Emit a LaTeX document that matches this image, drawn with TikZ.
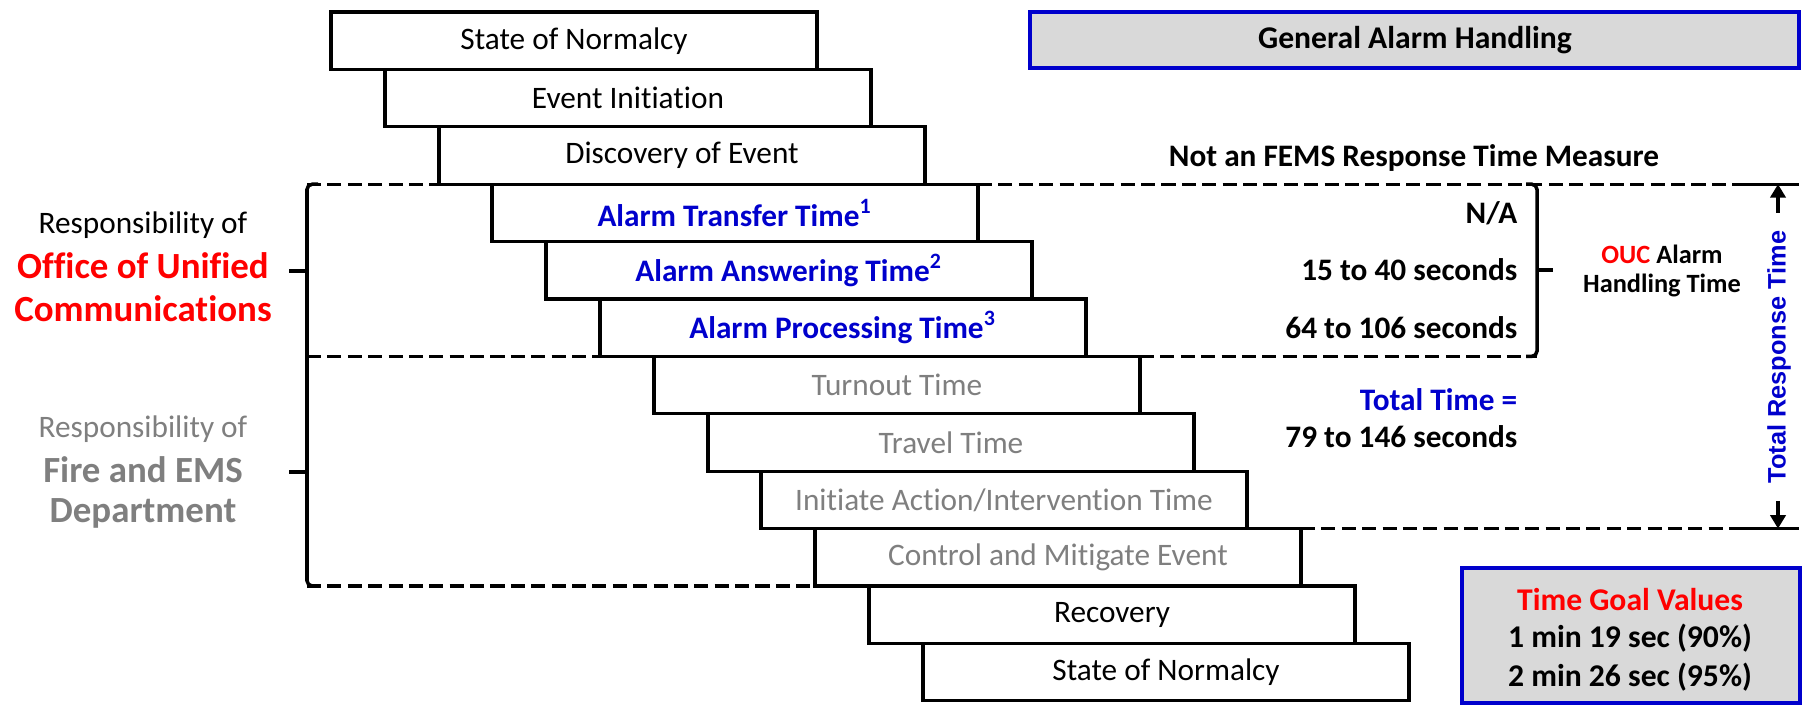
\documentclass[tikz,border=0pt]{standalone}
\usepackage{fontspec}
\setmainfont{Carlito}[Ligatures=NoCommon]
\newfontfamily\arialfont{Liberation Sans}
\usetikzlibrary{arrows.meta}
\definecolor{ablue}{RGB}{0,0,204}
\definecolor{agray}{RGB}{127,127,127}
\definecolor{ared}{RGB}{255,0,0}
\definecolor{boxgray}{RGB}{217,217,217}
\begin{document}
\begin{tikzpicture}[x=0.1mm,y=-0.1mm,
  stage/.style={draw, line width=0.9pt, minimum width=48.6mm, minimum height=5.74mm,
    inner sep=0pt, outer sep=0pt, anchor=north west, font=\fontsize{8.9}{10.7}\selectfont},
  alarm/.style={stage, text=ablue, font=\fontsize{8.9}{10.7}\selectfont\bfseries},
  fems/.style={stage, text=agray},
  dashline/.style={line width=0.9pt, dash pattern=on 4pt off 1.8pt},
  solidline/.style={line width=0.9pt},
  brk/.style={line width=1pt},
  lbl/.style={inner sep=0pt, font=\fontsize{8.9}{10.7}\selectfont},
  biglbl/.style={inner sep=0pt, font=\fontsize{10.5}{12}\selectfont\bfseries},
  vals/.style={inner sep=0pt, anchor=east, font=\fontsize{8.9}{10.7}\selectfont\bfseries},
  framebox/.style={draw=ablue, fill=boxgray, line width=1.3pt},
  arr/.style={line width=0.9pt, -{Triangle[length=3.8pt,width=4.3pt]}}
]
\useasboundingbox (0,0) rectangle (1808,705);

% stages
\node[stage] (b1) at (331,12) {State of Normalcy};
\node[stage] (b2) at (385,69.4) {Event Initiation};
\node[stage] (b3) at (439,126.8) {Discovery of Event};
\node[alarm] (b4) at (492,184.2) {Alarm Transfer Time\textsuperscript{1}};
\node[alarm] (b5) at (546,241.6) {Alarm Answering Time\textsuperscript{2}};
\node[alarm] (b6) at (600,299) {Alarm Processing Time\textsuperscript{3}};
\node[fems] (b7) at (654,356.4) {Turnout Time};
\node[fems] (b8) at (708,413.8) {Travel Time};
\node[fems] (b9) at (761,471.2) {Initiate Action/Intervention Time};
\node[fems] (b10) at (815,528.6) {Control and Mitigate Event};
\node[stage] (b11) at (869,586) {Recovery};
\node[stage] (b12) at (923,643.4) {State of Normalcy};

% bracket coordinates
\coordinate (lt) at (307,184.2);
\coordinate (lm) at (307,356.4);
\coordinate (lb) at (307,586);
\coordinate (lt1) at (289,271);
\coordinate (lt1b) at (307,271);
\coordinate (lt2) at (289,472);
\coordinate (lt2b) at (307,472);
\coordinate (ot) at (1537,184.2);
\coordinate (ob) at (1537,356.4);
\coordinate (otk) at (1537,270);
\coordinate (otke) at (1553,270);
\coordinate (trA) at (1735,184.2);
\coordinate (trB) at (1799,184.2);
\coordinate (brA) at (1735,528.6);
\coordinate (brB) at (1799,528.6);

% dashed boundaries
\draw[dashline] (lt) -- (lt -| b3.west);
\draw[dashline] (b4.north east) -- (trA);
\draw[solidline] (trA) -- (trB);
\draw[dashline] (lm) -- (lm -| b6.west);
\draw[dashline] (b7.north east) -- (ob);
\draw[dashline] (b10.north east) -- (brA);
\draw[solidline] (brA) -- (brB);
\draw[dashline] (lb) -- (lb -| b10.west);

% left bracket
\draw[brk, rounded corners=1.5pt] (318,184.2) -- (lt) -- (lb) -- (318,586);
\draw[brk] (lm) -- (316,356.4);
\draw[line width=1.3pt] (lt1) -- (lt1b);
\draw[line width=1.3pt] (lt2) -- (lt2b);
% OUC bracket
\draw[brk, rounded corners=1.5pt] (1526,184.2) -- (ot) -- (ob) -- (1526,356.4);
\draw[line width=1.3pt] (otk) -- (otke);

% left labels
\node[lbl] (r1) at (143,225) {Responsibility of};
\node[biglbl, text=ared] (r2) at (143,266) {Office of Unified};
\node[biglbl, text=ared] (r3) at (143,309) {Communications};
\node[lbl, text=agray] (f1) at (143,429) {Responsibility of};
\node[biglbl, text=agray] (f2) at (143,470) {Fire and EMS};
\node[biglbl, text=agray] (f3) at (143,513) {Department};

% right column
\node[inner sep=0pt, font=\fontsize{8.9}{10.7}\selectfont\bfseries] (nf) at (1414,158) {Not an FEMS Response Time Measure};
\node[vals] (v1) at (1518,213) {N/A};
\node[vals] (v2) at (1518,270) {15 to 40 seconds};
\node[vals] (v3) at (1518,328) {64 to 106 seconds};
\node[vals, text=ablue] (v4) at (1518,400) {Total Time =};
\node[vals] (v5) at (1518,437) {79 to 146 seconds};
\node[inner sep=0pt, font=\fontsize{7.5}{9}\selectfont\bfseries] (ouc1) at (1662,254) {\textcolor{ared}{OUC} Alarm};
\node[inner sep=0pt, font=\fontsize{7.5}{9}\selectfont\bfseries] (ouc2) at (1662,286) {Handling Time};

% total response time
\draw[arr] (1778,213) -- (trA -| 1778,0);
\draw[arr] (1778,501) -- (brA -| 1778,0);
\node[rotate=90, inner sep=0pt, text=ablue, font=\arialfont\bfseries\fontsize{7.2}{8}\selectfont] (trt) at (1779,357) {Total Response Time};

% general alarm handling
\draw[framebox] (1030,12) rectangle (1799,68);
\node[inner sep=0pt, font=\fontsize{9}{10.7}\selectfont\bfseries] (gah) at (1415,40) {General Alarm Handling};

% time goal values
\draw[framebox] (1462,568) rectangle (1800,703);
\node[inner sep=0pt, text=ared, font=\fontsize{9}{10.7}\selectfont\bfseries] (tg1) at (1630,600) {Time Goal Values};
\node[inner sep=0pt, font=\fontsize{9}{10.7}\selectfont\bfseries] (tg2) at (1630,638) {1 min 19 sec (90\%)};
\node[inner sep=0pt, font=\fontsize{9}{10.7}\selectfont\bfseries] (tg3) at (1630,677) {2 min 26 sec (95\%)};
\end{tikzpicture}
\end{document}
